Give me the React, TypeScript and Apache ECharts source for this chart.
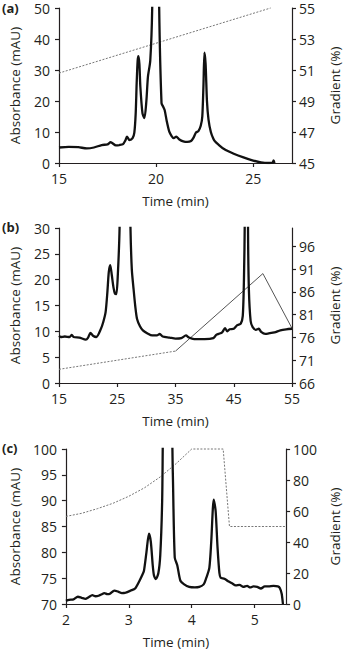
import React, { useEffect, useRef } from "react";
import * as echarts from "echarts";

// ---------- Panel (a) ----------
const aTime = [15.0, 15.5, 16.0, 16.43, 16.8, 17.2, 17.5, 17.66, 17.93, 18.1, 18.3, 18.42, 18.5, 18.63, 18.79, 18.88, 18.95, 19.0, 19.05, 19.09, 19.14, 19.19, 19.3, 19.4, 19.5, 19.58, 19.7, 19.8, 19.95, 20.05, 20.16, 20.28, 20.36, 20.44, 20.55, 20.68, 20.8, 20.91, 21.04, 21.2, 21.4, 21.6, 21.8, 21.93, 22.05, 22.18, 22.3, 22.38, 22.44, 22.49, 22.55, 22.62, 22.7, 22.82, 22.95, 23.03, 23.2, 23.5, 24.0, 24.5, 25.0, 25.4, 25.8, 26.0, 26.05, 26.1];
const aAbs = [5.0, 5.2, 5.1, 4.7, 5.0, 5.8, 6.0, 6.7, 5.7, 5.8, 6.1, 7.3, 8.5, 7.4, 8.0, 9.8, 16, 25.7, 33, 34.5, 32, 24.6, 16, 14.5, 20, 27.8, 33, 50, 120, 120, 50, 19.3, 18.2, 17.1, 13.5, 10.1, 8.7, 8.0, 8.5, 7.6, 7.0, 6.8, 7.1, 8.2, 9.8, 10.3, 12, 15, 25, 35.6, 32, 20, 14, 10, 7.8, 7.0, 6.0, 4.5, 3.0, 1.8, 0.8, 0.2, 0.0, 0.1, 0.8, 0.0];
const aGradTime = [15, 25.9];
const aGrad = [50.8, 55.0];
const aXTicks = [15, 20, 25];
const aRightTicks = [45, 47, 49, 51, 53, 55];

// ---------- Panel (b) ----------
const bTime = [15.0, 15.3, 16.0, 16.8, 17.2, 17.5, 18.5, 19.6, 20.0, 20.4, 20.9, 21.4, 22.2, 22.6, 23.0, 23.3, 23.55, 23.8, 24.05, 24.35, 24.6, 24.85, 25.1, 25.4, 25.8, 26.8, 27.27, 27.5, 27.8, 28.1, 28.4, 28.9, 29.4, 30.2, 31.0, 31.8, 32.3, 32.8, 34.0, 35.0, 36.0, 36.8, 37.3, 38.2, 40.0, 41.5, 42.0, 42.4, 43.0, 43.5, 43.9, 44.3, 45.0, 45.6, 46.2, 46.55, 46.75, 46.9, 47.05, 47.3, 47.45, 47.6, 47.9, 48.25, 48.8, 49.3, 49.7, 50.4, 51.0, 52.0, 53.0, 54.0, 55.0];
const bAbs = [9.1, 8.9, 9.0, 8.9, 9.3, 8.9, 8.8, 8.4, 8.8, 9.7, 9.1, 8.9, 10.5, 11.8, 13.7, 17.5, 21.5, 22.8, 21.0, 18.5, 17.3, 17.2, 21.0, 30, 60, 60, 30, 22, 18.2, 14.8, 12.4, 11.0, 10.2, 9.6, 9.2, 9.2, 9.5, 9.0, 8.8, 8.6, 8.7, 9.2, 8.8, 8.5, 8.5, 8.7, 9.3, 9.5, 9.8, 10.6, 10.0, 10.4, 10.5, 11.2, 11.5, 13, 20, 32, 80, 80, 30, 18, 12, 10.8, 10.3, 10.5, 9.9, 9.5, 9.6, 9.8, 10.2, 10.4, 10.5];
const bGradDotTime = [15, 35];
const bGradDot = [69, 73];
const bGradSolidTime = [35, 50, 55];
const bGradSolid = [73, 90, 78];
const bXTicks = [15, 25, 35, 45, 55];
const bRightTicks = [66, 71, 76, 81, 86, 91, 96];

// ---------- Panel (c) ----------
const cTime = [2.0, 2.05, 2.12, 2.19, 2.25, 2.31, 2.36, 2.42, 2.47, 2.52, 2.57, 2.61, 2.66, 2.7, 2.77, 2.83, 2.89, 2.95, 3.03, 3.1, 3.17, 3.21, 3.24, 3.28, 3.32, 3.35, 3.38, 3.4, 3.43, 3.47, 3.5, 3.53, 3.57, 3.65, 3.7, 3.73, 3.77, 3.82, 3.88, 3.96, 4.05, 4.12, 4.19, 4.23, 4.28, 4.31, 4.35, 4.38, 4.41, 4.44, 4.46, 4.52, 4.58, 4.64, 4.7, 4.76, 4.82, 4.88, 4.93, 4.98, 5.04, 5.1, 5.16, 5.22, 5.3, 5.37, 5.4, 5.43, 5.45];
const cAbs = [70.6, 70.8, 70.9, 71.4, 71.2, 71.0, 71.3, 71.7, 71.5, 71.6, 71.9, 72.1, 71.9, 72.0, 72.6, 72.4, 72.1, 72.2, 72.6, 73.0, 74.5, 75.5, 76.4, 80, 83.6, 82, 77.5, 75.5, 74.8, 76, 79.5, 90, 120, 120, 95, 79, 77.5, 74.5, 73.8, 73.3, 73.2, 73.3, 73.8, 75, 77, 82, 90.2, 88, 81, 76, 75.1, 74.9, 74.4, 74.0, 73.6, 73.7, 73.3, 73.5, 73.2, 73.4, 73.3, 73.0, 73.4, 73.4, 73.5, 73.4, 73.1, 72.0, 70.0];
const cGradTime = [2.0, 2.25, 2.5, 2.75, 3.0, 3.25, 3.5, 3.75, 4.0, 4.5, 4.6, 5.5];
const cGrad = [56.5, 58.5, 61.5, 65, 69.5, 75, 82, 90.5, 100, 100, 50, 50];
const cXTicks = [2, 3, 4, 5];
const cRightTicks = [0, 20, 40, 60, 80, 100];

const zip = (xs: number[], ys: number[]) => xs.map((x, i) => [x, ys[i]]);

const INK = "#231f20";
const FONT = "'Open Sans', sans-serif";

export default function App() {
  const ref = useRef<HTMLDivElement>(null);

  useEffect(() => {
    if (!ref.current) return;
    const chart = echarts.init(ref.current, undefined, { renderer: "svg" });

    const axisLine = { show: true, lineStyle: { color: INK, width: 1.2 } };
    const axisTick = { show: true, inside: false, length: 4, lineStyle: { color: INK, width: 1.2 } };
    const label = { color: INK, fontSize: 14, fontFamily: FONT };
    const nameStyle = { color: INK, fontSize: 13.5, fontFamily: FONT };

    const xAxis = (gi: number, min: number, max: number, ticks: number[]) => ({
      type: "value",
      gridIndex: gi,
      min,
      max,
      name: "Time (min)",
      nameLocation: "middle",
      nameGap: 31,
      nameTextStyle: nameStyle,
      axisLine,
      axisTick: { ...axisTick, customValues: ticks },
      axisLabel: { ...label, margin: 8, customValues: ticks },
      splitLine: { show: false },
    });

    const yLeft = (gi: number, min: number, max: number, interval: number) => ({
      type: "value",
      gridIndex: gi,
      position: "left",
      min,
      max,
      interval,
      name: "Absorbance (mAU)",
      nameLocation: "middle",
      nameGap: 37,
      nameTextStyle: nameStyle,
      axisLine,
      axisTick,
      axisLabel: { ...label, margin: 9 },
      splitLine: { show: false },
    });

    const yRight = (gi: number, min: number, max: number, ticks: number[]) => ({
      type: "value",
      gridIndex: gi,
      position: "right",
      min,
      max,
      name: "Gradient (%)",
      nameLocation: "middle",
      nameGap: 36,
      nameTextStyle: nameStyle,
      axisLine,
      axisTick: { ...axisTick, customValues: ticks },
      axisLabel: { ...label, margin: 7, customValues: ticks },
      splitLine: { show: false },
    });

    const trace = (xi: number, yi: number, data: number[][]) => ({
      type: "line",
      xAxisIndex: xi,
      yAxisIndex: yi,
      data,
      showSymbol: false,
      symbol: "none",
      smooth: 0.25,
      clip: true,
      lineStyle: { color: "#111", width: 2.3 },
      z: 3,
    });

    const grad = (xi: number, yi: number, data: number[][], dotted: boolean) => ({
      type: "line",
      xAxisIndex: xi,
      yAxisIndex: yi,
      data,
      showSymbol: false,
      symbol: "none",
      clip: false,
      lineStyle: { color: dotted ? "#777" : "#555", width: 1, type: dotted ? [2, 1.5] : "solid" },
      z: 2,
    });

    const panelLabel = (text: string, y: number) => ({
      type: "text",
      left: 2,
      top: y,
      style: { text, fill: INK, font: `bold 13px ${FONT}` },
    });

    chart.setOption({
      animation: false,
      backgroundColor: "#fff",
      grid: [
        { left: 53, right: 45, top: 8, height: 155 },
        { left: 53, right: 46, top: 228, height: 155 },
        { left: 53, right: 46, top: 449, height: 156 },
      ],
      xAxis: [
        xAxis(0, 15, 27, aXTicks),
        xAxis(1, 15, 55, bXTicks),
        xAxis(2, 2, 5.5, cXTicks),
      ],
      yAxis: [
        yLeft(0, 0, 50, 10),
        yRight(0, 45, 55, aRightTicks),
        yLeft(1, 0, 30, 5),
        yRight(1, 66, 100, bRightTicks),
        yLeft(2, 70, 100, 5),
        yRight(2, 0, 100, cRightTicks),
      ],
      series: [
        grad(0, 1, zip(aGradTime, aGrad), true),
        trace(0, 0, zip(aTime, aAbs)),
        grad(1, 3, zip(bGradDotTime, bGradDot), true),
        grad(1, 3, zip(bGradSolidTime, bGradSolid), false),
        trace(1, 2, zip(bTime, bAbs)),
        grad(2, 5, zip(cGradTime, cGrad), true),
        trace(2, 4, zip(cTime, cAbs)),
      ],
      graphic: [panelLabel("(a)", 1), panelLabel("(b)", 220), panelLabel("(c)", 441)],
    });

    return () => chart.dispose();
  }, []);

  return (
    <div
      ref={ref}
      style={{ position: "fixed", left: 0, top: 0, width: 350, height: 650, background: "#fff" }}
    />
  );
}
